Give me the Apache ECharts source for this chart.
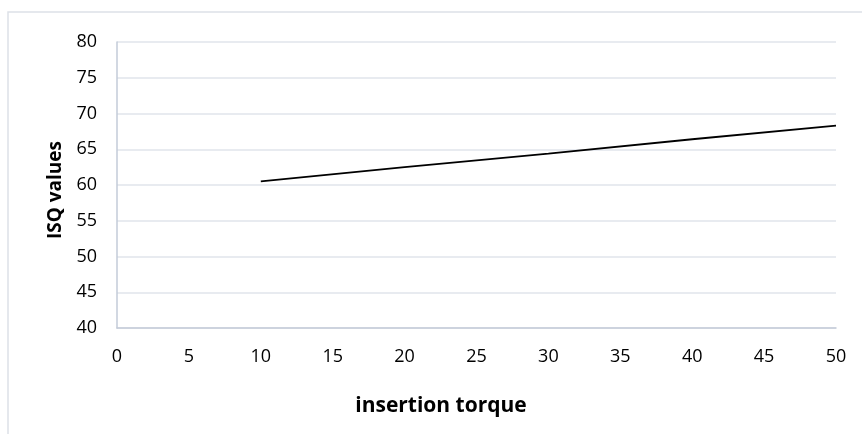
<!DOCTYPE html>
<html>
<head>
<meta charset="utf-8">
<script src="https://cdn.jsdelivr.net/npm/echarts@6/dist/echarts.min.js"></script>
<style>
html,body{margin:0;padding:0;background:#fff;}
#chart{width:862px;height:434px;}
</style>
</head>
<body>
<div id="chart"></div>
<script>
var torque = [10, 20, 30, 40, 50];
var isq = [60.5, 62.5, 64.4, 66.4, 68.3];
var xTitle = 'insertion torque';
var yTitle = 'ISQ values';

var chart = echarts.init(document.getElementById('chart'), null, {renderer: 'canvas'});
var fontFam = '"Open Sans", "Liberation Sans", sans-serif';
chart.setOption({
  animation: false,
  backgroundColor: '#ffffff',
  grid: {left: 117, top: 42, right: 26, bottom: 106},
  graphic: [
    {type: 'rect', shape: {x: 8, y: 12, width: 900, height: 500}, style: {fill: 'none', stroke: '#dde1e7', lineWidth: 1.5}, silent: true},
    {type: 'text', x: 441, y: 406, style: {text: xTitle, font: 'bold 21px ' + fontFam, fill: '#000', align: 'center', verticalAlign: 'middle'}},
    {type: 'text', x: 56, y: 190, rotation: Math.PI / 2, style: {text: yTitle, font: 'bold 19px ' + fontFam, fill: '#000', align: 'center', verticalAlign: 'middle'}}
  ],
  xAxis: {
    type: 'value', min: 0, max: 50, interval: 5,
    axisLine: {show: true, lineStyle: {color: '#c3cbd8', width: 1.5}},
    axisTick: {show: false},
    splitLine: {show: false},
    axisLabel: {color: '#000', fontSize: 18, fontFamily: fontFam, margin: 20}
  },
  yAxis: {
    type: 'value', min: 40, max: 80, interval: 5,
    axisLine: {show: true, lineStyle: {color: '#c3cbd8', width: 1.5}},
    axisTick: {show: false},
    splitLine: {show: true, lineStyle: {color: '#e1e5eb', width: 1.5}},
    axisLabel: {color: '#000', fontSize: 18, fontFamily: fontFam, margin: 20}
  },
  series: [{
    type: 'line',
    data: torque.map(function (t, i) { return [t, isq[i]]; }),
    showSymbol: false,
    symbol: 'none',
    lineStyle: {color: '#000', width: 1.8},
    z: 5
  }]
});
</script>
</body>
</html>
